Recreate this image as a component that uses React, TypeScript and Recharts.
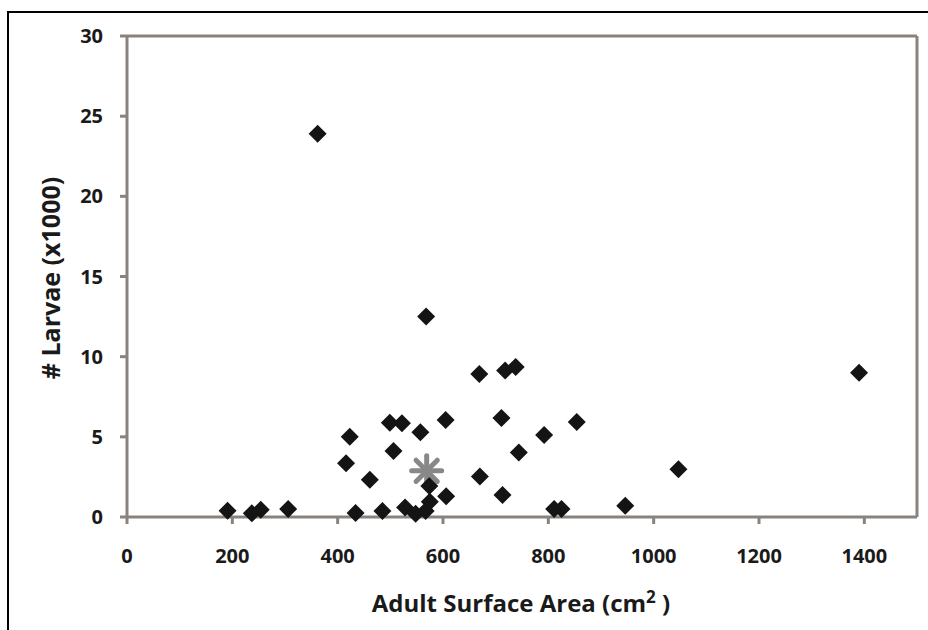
import React from "react";
import {
  ScatterChart,
  Scatter,
  XAxis,
  YAxis,
  ReferenceLine,
} from "recharts";

// adult surface area (cm²) and larvae count (x1000) per colony
const areas = [
  191, 237, 254, 306, 362, 416, 423, 434, 461, 485, 499, 522, 506, 528, 548,
  557, 568, 567, 575, 574, 605, 606, 669, 670, 711, 713, 718, 738, 744, 792,
  811, 825, 854, 946, 1047, 1390,
];
const larvae = [
  0.39, 0.23, 0.45, 0.5, 23.9, 3.35, 5.01, 0.25, 2.32, 0.37, 5.88, 5.84, 4.12,
  0.6, 0.2, 5.28, 12.5, 0.38, 0.95, 1.93, 6.05, 1.3, 8.92, 2.52, 6.17, 1.37,
  9.13, 9.36, 4.02, 5.11, 0.5, 0.5, 5.92, 0.7, 2.98, 8.99,
];

// mean of all colonies
const meanArea = [569];
const meanLarvae = [2.88];

const xTicks = [0, 200, 400, 600, 800, 1000, 1200, 1400];
const yTicks = [0, 5, 10, 15, 20, 25, 30];

const points = areas.map((a, i) => ({ x: a, y: larvae[i] }));
const meanPoint = meanArea.map((a, i) => ({ x: a, y: meanLarvae[i] }));

const AXIS = "#8a827c";
const INK = "#1a1a1a";
const FONT = "'Open Sans', Lato, sans-serif";

const Diamond = (props: any) => {
  const { cx, cy } = props;
  const r = 9;
  return (
    <polygon
      points={`${cx},${cy - r} ${cx + r},${cy} ${cx},${cy + r} ${cx - r},${cy}`}
      fill="#141414"
    />
  );
};

const Asterisk = (props: any) => {
  const { cx, cy } = props;
  const r = 15;
  const d = r * Math.SQRT1_2;
  return (
    <g stroke="#888888" strokeWidth={5} strokeLinecap="round">
      <line x1={cx - r} y1={cy} x2={cx + r} y2={cy} />
      <line x1={cx} y1={cy - r} x2={cx} y2={cy + r} />
      <line x1={cx - d} y1={cy - d} x2={cx + d} y2={cy + d} />
      <line x1={cx - d} y1={cy + d} x2={cx + d} y2={cy - d} />
    </g>
  );
};

const XTick = (props: any) => (
  <text
    x={props.x}
    y={props.y + 37}
    textAnchor="middle"
    fontFamily={FONT}
    fontWeight={700}
    fontSize={20}
    fill={INK}
  >
    {props.payload.value}
  </text>
);

const YTick = (props: any) => (
  <text
    x={props.x - 15}
    y={props.y + 7}
    textAnchor="end"
    fontFamily={FONT}
    fontWeight={700}
    fontSize={20}
    fill={INK}
  >
    {props.payload.value}
  </text>
);

export default function App() {
  return (
    <div
      style={{
        position: "absolute",
        left: 0,
        top: 0,
        width: 928,
        height: 630,
        background: "#fff",
      }}
    >
      <div
        style={{
          position: "absolute",
          left: 7,
          top: 11,
          width: 921,
          height: 619,
          borderTop: "2px solid #000",
          borderLeft: "2px solid #000",
        }}
      />
      <div style={{ position: "absolute", left: 0, top: 0 }}>
        <ScatterChart
          width={928}
          height={630}
          margin={{ top: 36, right: 11, bottom: 0, left: 0 }}
        >
          <XAxis
            type="number"
            dataKey="x"
            domain={[0, 1500]}
            ticks={xTicks}
            height={113}
            axisLine={{ stroke: AXIS, strokeWidth: 3 }}
            tickLine={{ stroke: AXIS, strokeWidth: 3 }}
            tickSize={7}
            tick={<XTick />}
            label={{
              content: () => (
                <text
                  x={521}
                  y={612}
                  textAnchor="middle"
                  fontFamily={FONT}
                  fontWeight={700}
                  fontSize={24}
                  fill={INK}
                >
                  Adult Surface Area (cm
                  <tspan fontSize={17} dy={-9}>
                    2
                  </tspan>
                  <tspan dy={9}> )</tspan>
                </text>
              ),
            }}
          />
          <YAxis
            type="number"
            dataKey="y"
            domain={[0, 30]}
            ticks={yTicks}
            width={127}
            axisLine={{ stroke: AXIS, strokeWidth: 3 }}
            tickLine={{ stroke: AXIS, strokeWidth: 3 }}
            tickSize={7}
            tick={<YTick />}
            label={{
              content: () => (
                <text
                  x={50}
                  y={278}
                  transform="rotate(-90 50 278)"
                  textAnchor="middle"
                  dominantBaseline="central"
                  fontFamily={FONT}
                  fontWeight={700}
                  fontSize={25}
                  fill={INK}
                >
                  # Larvae (x1000)
                </text>
              ),
            }}
          />
          <ReferenceLine y={30} stroke={AXIS} strokeWidth={3} />
          <ReferenceLine x={1500} stroke={AXIS} strokeWidth={3} />
          <Scatter
            data={meanPoint}
            shape={<Asterisk />}
            isAnimationActive={false}
          />
          <Scatter
            data={points}
            shape={<Diamond />}
            isAnimationActive={false}
          />
        </ScatterChart>
      </div>
    </div>
  );
}
